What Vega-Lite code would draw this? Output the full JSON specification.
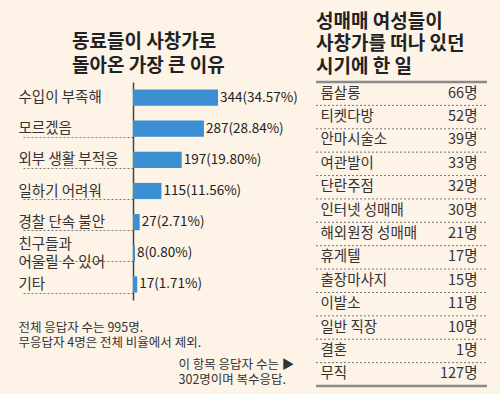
{
  "$schema": "https://vega.github.io/schema/vega-lite/v6.json",
  "background": "#fdf3e7",
  "padding": {"left": 18, "top": 12, "right": 13, "bottom": 6},
  "bounds": "flush",
  "spacing": 13,
  "config": {
    "font": "Noto Sans CJK KR",
    "view": {"stroke": null}
  },
  "hconcat": [
    {
      "width": 170,
      "height": 218,
      "title": {
        "text": ["동료들이 사창가로", "돌아온 가장 큰 이유"],
        "anchor": "start",
        "frame": "group",
        "dx": -61,
        "fontSize": 19,
        "fontWeight": "bold",
        "lineHeight": 24,
        "color": "#222",
        "offset": -2
      },
      "data": {
        "values": [
          {"reason": "수입이 부족해", "count": 344, "label": "344(34.57%)"},
          {"reason": "모르겠음", "count": 287, "label": "287(28.84%)"},
          {"reason": "외부 생활 부적응", "count": 197, "label": "197(19.80%)"},
          {"reason": "일하기 어려워", "count": 115, "label": "115(11.56%)"},
          {"reason": "경찰 단속 불안", "count": 27, "label": "27(2.71%)"},
          {"reason": "친구들과|어울릴 수 있어", "count": 8, "label": "8(0.80%)"},
          {"reason": "기타", "count": 17, "label": "17(1.71%)"}
        ]
      },
      "encoding": {
        "y": {
          "field": "reason",
          "type": "nominal",
          "sort": null,
          "scale": {"paddingInner": 0.48, "paddingOuter": 0.24},
          "axis": {
            "title": null,
            "orient": "left",
            "labelAlign": "left",
            "labelBaseline": "middle",
            "labelPadding": 3,
            "labelLimit": 0,
            "labelExpr": "split(datum.label, '|')",
            "labelFontSize": 14.5,
            "labelColor": "#333",
            "labelLineHeight": 18,
            "labelOffset": {"condition": {"test": "datum.value == '친구들과|어울릴 수 있어'", "value": -9}, "value": 0},
            "tickSize": 112,
            "tickBand": "extent",
            "tickColor": "#777",
            "tickDash": [2, 2],
            "tickWidth": 1,
            "tickOpacity": {"condition": {"test": "datum.value == '수입이 부족해' || datum.extra", "value": 0}, "value": 1},
            "domainColor": "#444",
            "domainWidth": 1.5
          }
        },
        "x": {
          "field": "count",
          "type": "quantitative",
          "scale": {"domain": [0, 688]},
          "axis": {
            "title": ["전체 응답자 수는 995명.", "무응답자 4명은 전체 비율에서 제외."],
            "labels": false,
            "ticks": false,
            "domain": false,
            "grid": false,
            "titleAnchor": "start",
            "titleAlign": "left",
            "titleBaseline": "top",
            "titleX": -115,
            "titleY": 21,
            "titleFontSize": 12.5,
            "titleFontWeight": "normal",
            "titleColor": "#333",
            "titleLineHeight": 15
          }
        }
      },
      "layer": [
        {"mark": {"type": "bar", "color": "#3b8fd2"}},
        {
          "mark": {"type": "text", "align": "left", "baseline": "middle", "dx": 2, "fontSize": 13.5, "color": "#222"},
          "encoding": {"text": {"field": "label"}}
        }
      ]
    },
    {
      "width": 171,
      "height": 304,
      "title": {
        "text": ["성매매 여성들이", "사창가를 떠나 있던", "시기에 한 일"],
        "anchor": "start",
        "frame": "group",
        "fontSize": 19,
        "fontWeight": "bold",
        "lineHeight": 22.5,
        "color": "#222",
        "offset": 4
      },
      "data": {
        "values": [
          {"job": "룸살롱", "n": "66명"},
          {"job": "티켓다방", "n": "52명"},
          {"job": "안마시술소", "n": "39명"},
          {"job": "여관발이", "n": "33명"},
          {"job": "단란주점", "n": "32명"},
          {"job": "인터넷 성매매", "n": "30명"},
          {"job": "해외원정 성매매", "n": "21명"},
          {"job": "휴게텔", "n": "17명"},
          {"job": "출장마사지", "n": "15명"},
          {"job": "이발소", "n": "11명"},
          {"job": "일반 직장", "n": "10명"},
          {"job": "결혼", "n": "1명"},
          {"job": "무직", "n": "127명"}
        ]
      },
      "encoding": {
        "x": {"datum": 0, "type": "quantitative", "scale": {"domain": [0, 1]}, "axis": null}
      },
      "layer": [
        {
          "encoding": {
            "y": {
              "field": "job",
              "type": "nominal",
              "sort": null,
              "scale": {"padding": 0},
              "axis": {
                "orient": "left",
                "title": ["이 항목 응답자 수는 ▶", "302명이며 복수응답."],
                "titleAngle": 0,
                "titleAlign": "left",
                "titleBaseline": "top",
                "titleX": -138,
                "titleY": 276,
                "titleFontSize": 12.5,
                "titleFontWeight": "normal",
                "titleLineHeight": 15.5,
                "titleColor": "#333",
                "labelAlign": "left",
                "labelBaseline": "middle",
                "labelPadding": -4,
                "labelFontSize": 14.5,
                "labelColor": "#333",
                "ticks": false,
                "tickSize": 0,
                "domain": false,
                "grid": false
              }
            }
          },
          "layer": [
            {"mark": {"type": "tick", "opacity": 0}},
            {
              "mark": {"type": "rule"},
              "encoding": {
                "x": {"datum": 0, "type": "quantitative"},
                "x2": {"datum": 1},
                "y": {"field": "job", "type": "nominal", "sort": null, "bandPosition": 0},
                "color": {"condition": {"test": "datum.job == '룸살롱'", "value": "#8a8a8a"}, "value": "#777"},
                "strokeWidth": {"condition": {"test": "datum.job == '룸살롱'", "value": 2.5}, "value": 1},
                "strokeDash": {"condition": {"test": "datum.job == '룸살롱'", "value": [1, 0]}, "value": [2, 2]}
              }
            },
            {
              "mark": {"type": "rule", "color": "#8a8a8a", "strokeWidth": 2.5},
              "encoding": {
                "x": {"datum": 0, "type": "quantitative"},
                "x2": {"datum": 1},
                "y": {"field": "job", "type": "nominal", "sort": null, "bandPosition": 1},
                "strokeOpacity": {"condition": {"test": "datum.job == '무직'", "value": 1}, "value": 0}
              }
            }
          ]
        },
        {
          "mark": {"type": "tick", "opacity": 0},
          "encoding": {
            "y": {
              "field": "n",
              "type": "nominal",
              "sort": null,
              "scale": {"padding": 0},
              "axis": {
                "orient": "right",
                "title": null,
                "labelAlign": "right",
                "labelBaseline": "middle",
                "labelPadding": -10,
                "labelFontSize": 14.5,
                "labelColor": "#333",
                "ticks": false,
                "tickSize": 0,
                "domain": false,
                "grid": false
              }
            }
          }
        }
      ],
      "resolve": {"scale": {"y": "independent"}}
    }
  ]
}
